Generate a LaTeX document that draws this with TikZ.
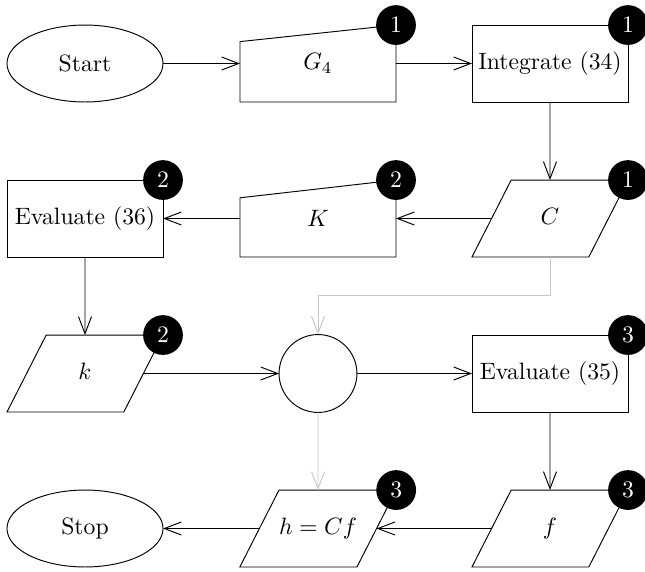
\documentclass[tikz,border=0pt]{standalone}
\usetikzlibrary{shapes.geometric,arrows.meta}
\begin{document}
\begin{tikzpicture}[x=0.4224pt,y=-0.4224pt,
  every node/.style={inner sep=0pt, outer sep=0pt},
  box/.style={draw, rectangle, minimum width=65.9pt, minimum height=32.5pt},
  manualin/.style={rectangle, minimum width=65.9pt, minimum height=32.5pt},
  terminal/.style={draw, ellipse, minimum width=65.9pt, minimum height=32.5pt},
  datapar/.style={draw, trapezium, trapezium left angle=63, trapezium right angle=117,
    trapezium stretches body, inner ysep=0pt, text height=18.75pt, text depth=13.75pt,
    minimum width=65.9pt},
  junction/.style={draw, circle, minimum size=32.9pt},
  badge/.style={circle, fill=black, text=white, minimum size=16.8pt},
  flow/.style={-{Straight Barb[length=7.2pt,width=5.5pt]}},
  feed/.style={flow, draw=black!22}
]
\useasboundingbox (0,0) rectangle (645,571);

% row 1
\node[terminal] (start) at (85,63.5) {Start};
\node[manualin] (g4) at (318,63.5) {$G_4$};
\draw (g4.south west) -- (g4.south east) -- (g4.north east)
      -- ([yshift=-7pt]g4.north west) -- cycle;
\node[box] (integ) at (550,63.5) {Integrate (34)};

% row 2
\node[box] (eval36) at (85,218.5) {Evaluate (36)};
\node[manualin] (kin) at (318,218.5) {$K$};
\draw (kin.south west) -- (kin.south east) -- (kin.north east)
      -- ([yshift=-7.5pt]kin.north west) -- cycle;
\node[datapar] (cdat) at (550,218.5) {$C$};

% row 3
\node[datapar] (kdat) at (85,373.5) {$k$};
\node[junction] (mix) at (318,373.5) {};
\node[box] (eval35) at (550,373.5) {Evaluate (35)};

% row 4
\node[terminal] (stop) at (85,528.5) {Stop};
\node[datapar] (hdat) at (318,528.5) {$h = Cf$};
\node[datapar] (fdat) at (550,528.5) {$f$};

% connectors
\draw[flow] (start) -- (g4);
\draw[flow] (g4) -- (integ);
\draw[flow] (integ) -- (cdat);
\draw[flow] (cdat) -- (kin);
\draw[flow] (kin) -- (eval36);
\draw[flow] (eval36) -- (kdat);
\draw[flow] (kdat) -- (mix);
\draw[flow] (mix) -- (eval35);
\draw[flow] (eval35) -- (fdat);
\draw[flow] (fdat) -- (hdat);
\draw[flow] (hdat) -- (stop);
\draw[feed] (cdat.south) -- ++(0,38) -| (mix.north);
\draw[feed] (mix) -- (hdat);

% stage badges
\node[badge] (b1) at (g4.north east) {1};
\node[badge] (b2) at (integ.north east) {1};
\node[badge] (b3) at (cdat.top right corner) {1};
\node[badge] (b4) at (kin.north east) {2};
\node[badge] (b5) at (eval36.north east) {2};
\node[badge] (b6) at (kdat.top right corner) {2};
\node[badge] (b7) at (eval35.north east) {3};
\node[badge] (b8) at (fdat.top right corner) {3};
\node[badge] (b9) at (hdat.top right corner) {3};
\end{tikzpicture}
\end{document}
